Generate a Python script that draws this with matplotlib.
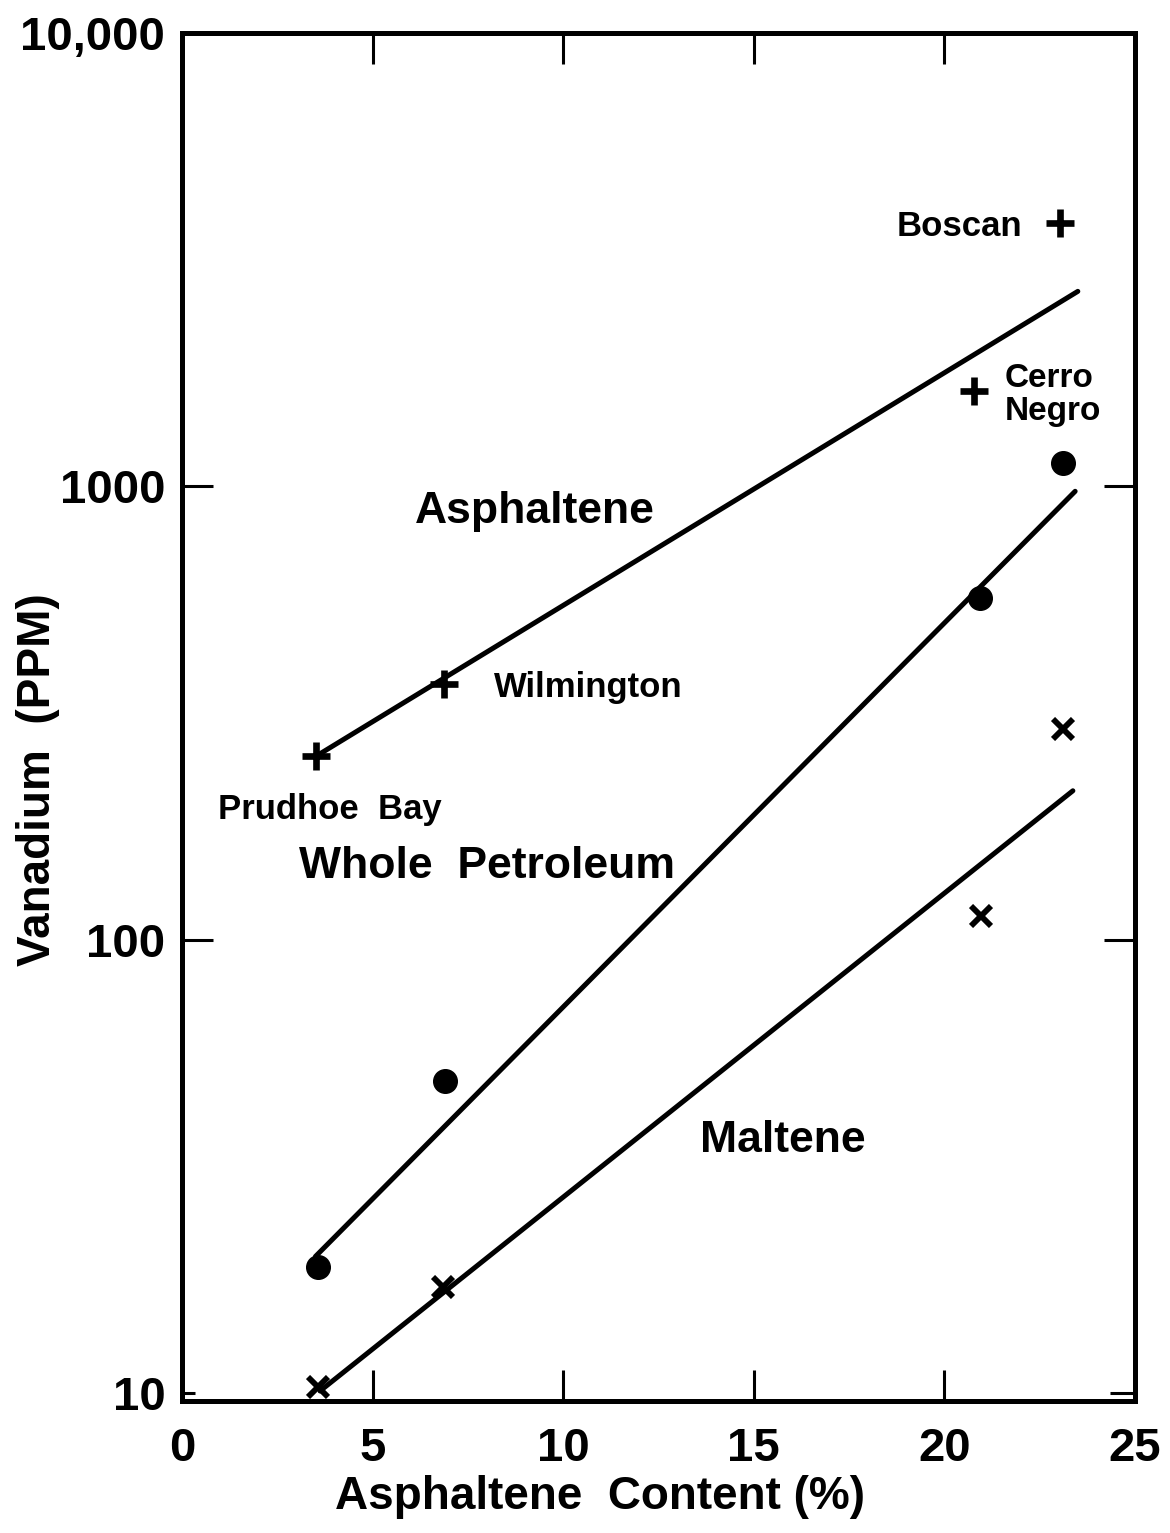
import matplotlib
matplotlib.use("Agg")
import matplotlib.pyplot as plt

# ---- data ----
asph_x = [3.52, 6.87, 20.78, 23.03]
asph_y = [254, 366, 1622, 3812]
whole_x = [3.57, 6.90, 20.93, 23.10]
whole_y = [19.0, 48.7, 566, 1125]
malt_x = [3.57, 6.85, 20.95, 23.10]
malt_y = [10.3, 17.1, 112.5, 291]

# fitted lines (end points)
asph_fit_x = [3.52, 23.5]
asph_fit_y = [254, 2692]
whole_fit_x = [3.5, 23.43]
whole_fit_y = [20.0, 975]
malt_fit_x = [3.62, 23.37]
malt_fit_y = [10.1, 213]

x_ticks = [0, 5, 10, 15, 20, 25]
x_ticklabels = ["0", "5", "10", "15", "20", "25"]
y_ticks = [10, 100, 1000, 10000]
y_ticklabels = ["10", "100", "1000", "10,000"]

FONT = ["Liberation Sans", "DejaVu Sans"]
plt.rcParams["font.family"] = FONT
plt.rcParams["font.weight"] = "bold"

fig = plt.figure(figsize=(11.7, 15.33), dpi=100)
ax = fig.add_axes([182 / 1170, 132 / 1533, (1135 - 182) / 1170, (1401 - 33) / 1533])

ax.set_yscale("log")
ax.set_xlim(0, 25)
ax.set_ylim(9.6, 10000)

lw = 3.6
ax.plot(asph_fit_x, asph_fit_y, color="black", lw=lw, solid_capstyle="round")
ax.plot(whole_fit_x, whole_fit_y, color="black", lw=lw, solid_capstyle="round")
ax.plot(malt_fit_x, malt_fit_y, color="black", lw=lw, solid_capstyle="round")

ax.plot(asph_x, asph_y, linestyle="none", marker="+", ms=20, mew=4.8, color="black", clip_on=False)
ax.plot(whole_x, whole_y, linestyle="none", marker="o", ms=17, color="black", clip_on=False)
ax.plot(malt_x, malt_y, linestyle="none", marker="x", ms=14, mew=4.2, color="black", clip_on=False)

for s in ax.spines.values():
    s.set_linewidth(3.6)

ax.minorticks_off()
ax.set_xticks(x_ticks)
ax.set_xticklabels(x_ticklabels)
ax.set_yticks(y_ticks)
ax.set_yticklabels(y_ticklabels)
ax.tick_params(axis="both", which="major", direction="in", length=22, width=2.2,
               top=True, right=True, labelsize=34)
ax.tick_params(axis="x", pad=19)
ax.tick_params(axis="y", pad=12)
t10 = ax.yaxis.get_major_ticks()[0]
t10.tick1line.set_markersize(9)
t10.tick2line.set_markersize(18)
for lab in ax.get_xticklabels() + ax.get_yticklabels():
    lab.set_fontweight("bold")


def px(xp, yp):
    # convert a reference pixel position to axes fraction
    return ((xp - 182) / (1135 - 182), (1401 - yp) / (1401 - 33))


big = 32
small = 25
ax.text(*px(535, 512), "Asphaltene", transform=ax.transAxes, ha="center", va="center", fontsize=big, fontweight="bold")
ax.text(*px(487, 866), "Whole  Petroleum", transform=ax.transAxes, ha="center", va="center", fontsize=big, fontweight="bold")
ax.text(*px(783, 1140), "Maltene", transform=ax.transAxes, ha="center", va="center", fontsize=big, fontweight="bold")
ax.text(*px(330, 810), "Prudhoe  Bay", transform=ax.transAxes, ha="center", va="center", fontsize=small, fontweight="bold")
ax.text(*px(494, 688), "Wilmington", transform=ax.transAxes, ha="left", va="center", fontsize=small, fontweight="bold")
ax.text(*px(1022, 226), "Boscan", transform=ax.transAxes, ha="right", va="center", fontsize=small, fontweight="bold")
ax.text(*px(1005, 395), "Cerro\nNegro", transform=ax.transAxes, ha="left", va="center", fontsize=24,
        fontweight="bold", linespacing=1.05)

fig.text(600 / 1170, 1 - 1497 / 1533, "Asphaltene  Content (%)", ha="center", va="center",
         fontsize=33, fontweight="bold")
fig.text(38 / 1170, 1 - 780 / 1533, "Vanadium  (PPM)", ha="center", va="center", rotation=90,
         fontsize=33, fontweight="bold")

fig.savefig("out.png", dpi=100)
